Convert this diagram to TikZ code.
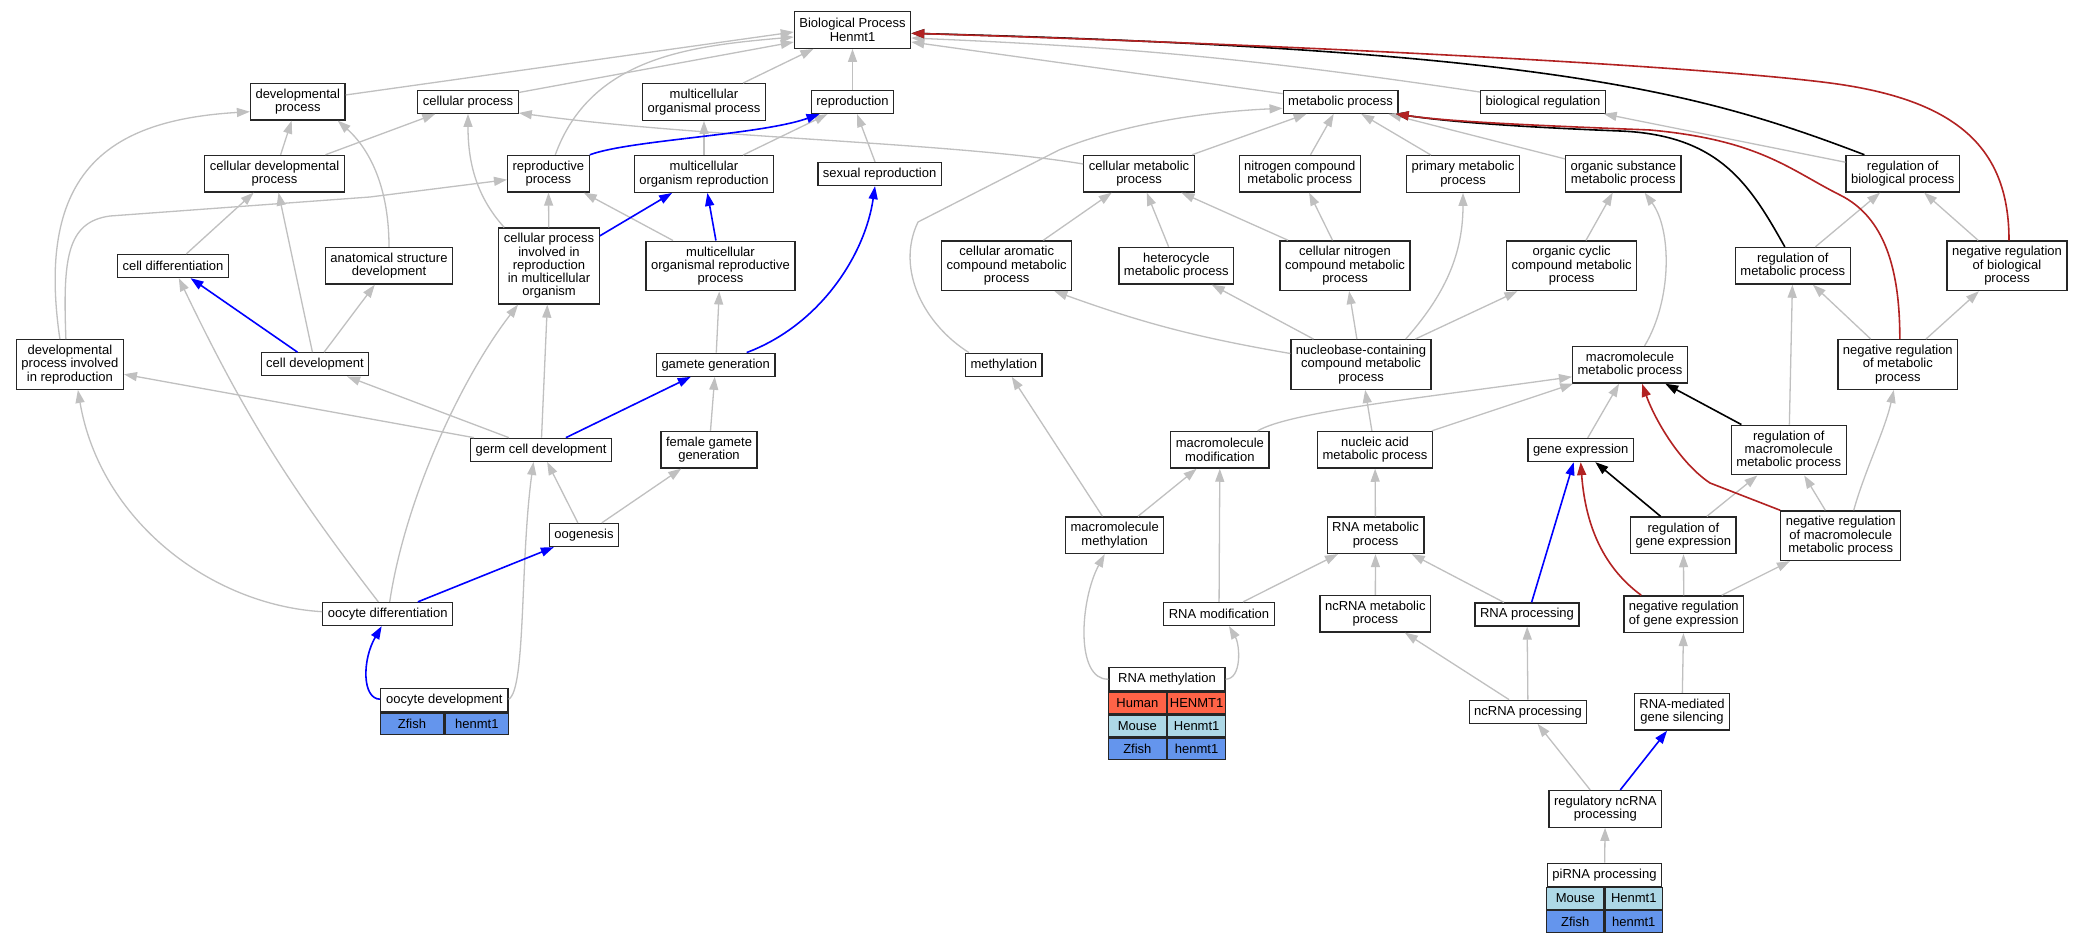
\documentclass[tikz,border=0pt]{standalone}
\usepackage{fontspec}
\setmainfont{Liberation Sans}
\usetikzlibrary{arrows.meta}
\definecolor{isagray}{RGB}{192,192,192}
\definecolor{hitblue}{RGB}{0,0,255}
\definecolor{negred}{RGB}{178,34,34}
\definecolor{human}{RGB}{255,99,71}
\definecolor{mouse}{RGB}{173,216,230}
\definecolor{zfish}{RGB}{100,149,237}
\begin{document}
\begin{tikzpicture}[x=1pt,y=1pt,
  goterm/.style={draw=black!85,line width=1.3pt,fill=white,align=center,inner xsep=5pt,inner ysep=1pt,minimum height=23pt,font=\fontsize{13}{13.3}\selectfont},
  lines2/.style={minimum height=36.6pt},
  lines3/.style={minimum height=49.6pt},
  lines5/.style={minimum height=76pt},
  genecell/.style={draw=black!85,line width=1.3pt,inner sep=0pt,minimum height=21.7pt,font=\fontsize{13}{13.3}\selectfont},
  isa/.style={draw=isagray,line width=1.3pt,-{Triangle[length=13pt,width=9pt]}},
  ortho/.style={draw=hitblue,line width=1.6pt,-{Triangle[length=13pt,width=9pt]}},
  regby/.style={draw=black,line width=1.6pt,-{Triangle[length=13pt,width=9pt]}},
  negby/.style={draw=negred,line width=1.6pt,-{Triangle[length=13pt,width=9pt]}}]

\path[use as bounding box,fill=white] (0,0) rectangle (2083,-939);

%terms, row by row
\node[goterm,lines2] (bp) at (852.5,-30) {Biological Process\\Henmt1};

\node[goterm,lines2] (devproc) at (297.8,-101.7) {developmental\\process};
\node[goterm] (cellproc) at (468,-101.8) {cellular process};
\node[goterm,lines2] (multorgproc) at (704,-102) {multicellular\\organismal process};
\node[goterm] (reproduction) at (852.5,-102) {reproduction};
\node[goterm] (metproc) at (1340.6,-101.7) {metabolic process};
\node[goterm] (bioreg) at (1543,-101.7) {biological regulation};

\node[goterm,lines2] (celldevproc) at (274.5,-173.7) {cellular developmental\\process};
\node[goterm,lines2] (reprodproc) at (548.4,-173.7) {reproductive\\process};
\node[goterm,lines2] (multorgrepro) at (704,-174) {multicellular\\organism reproduction};
\node[goterm] (sexrepro) at (879.6,-174) {sexual reproduction};
\node[goterm,lines2] (cellmetproc) at (1139,-173.7) {cellular metabolic\\process};
\node[goterm,lines2] (nitrocomp) at (1299.8,-173.7) {nitrogen compound\\metabolic process};
\node[goterm,lines2] (primmet) at (1463,-174) {primary metabolic\\process};
\node[goterm,lines2] (orgsubst) at (1623.3,-173.7) {organic substance\\metabolic process};
\node[goterm,lines2] (regbio) at (1902.7,-173.7) {regulation of\\biological process};

\node[goterm] (celldiff) at (173,-266) {cell differentiation};
\node[goterm,lines2] (anatdev) at (389,-265.8) {anatomical structure\\development};
\node[goterm,lines5] (cpinrepro) at (549,-266) {cellular process\\involved in\\reproduction\\in multicellular\\organism};
\node[goterm,lines3] (multorgreproproc) at (720.5,-266) {multicellular\\organismal reproductive\\process};
\node[goterm,lines3] (cellarom) at (1006.7,-265.7) {cellular aromatic\\compound metabolic\\process};
\node[goterm,lines2] (heterocyc) at (1176.3,-265.7) {heterocycle\\metabolic process};
\node[goterm,lines3] (cellnitro) at (1345,-265.7) {cellular nitrogen\\compound metabolic\\process};
\node[goterm,lines3] (orgcyc) at (1571.7,-265.8) {organic cyclic\\compound metabolic\\process};
\node[goterm,lines2] (regmet) at (1792.8,-265.8) {regulation of\\metabolic process};
\node[goterm,lines3] (negregbio) at (2007,-265.8) {negative regulation\\of biological\\process};

\node[goterm,lines3] (devinrepro) at (69.9,-364.5) {developmental\\process involved\\in reproduction};
\node[goterm] (celldev) at (315,-364.3) {cell development};
\node[goterm] (gamgen) at (715.7,-364.7) {gamete generation};
\node[goterm] (methyl) at (1003.8,-364.7) {methylation};
\node[goterm,lines3] (nucleob) at (1361,-364.5) {nucleobase-containing\\compound metabolic\\process};
\node[goterm,lines2] (macromet) at (1630,-364.8) {macromolecule\\metabolic process};
\node[goterm,lines3] (negregmet) at (1897.8,-364.5) {negative regulation\\of metabolic\\process};

\node[goterm] (germdev) at (541,-449.8) {germ cell development};
\node[goterm,lines2] (femgam) at (709,-449.7) {female gamete\\generation};
\node[goterm,lines2] (macromod) at (1219.9,-449.8) {macromolecule\\modification};
\node[goterm,lines2] (nucacid) at (1375,-449.8) {nucleic acid\\metabolic process};
\node[goterm] (genexp) at (1580.7,-450) {gene expression};
\node[goterm,lines3] (regmacro) at (1788.8,-450) {regulation of\\macromolecule\\metabolic process};

\node[goterm] (oogen) at (584,-535) {oogenesis};
\node[goterm,lines2] (macromethyl) at (1114.7,-535.2) {macromolecule\\methylation};
\node[goterm,lines2] (rnamet) at (1375.5,-535.2) {RNA metabolic\\process};
\node[goterm,lines2] (reggene) at (1683.4,-535.3) {regulation of\\gene expression};
\node[goterm,lines3] (negregmacro) at (1840.7,-535.7) {negative regulation\\of macromolecule\\metabolic process};

\node[goterm] (oocdiff) at (387.7,-614) {oocyte differentiation};
\node[goterm] (rnamod) at (1219,-614) {RNA modification};
\node[goterm,lines2] (ncrnamet) at (1375.3,-613.7) {ncRNA metabolic\\process};
\node[goterm] (rnaproc) at (1527,-614.5) {RNA processing};
\node[goterm,lines2] (negreggene) at (1683.8,-614.2) {negative regulation\\of gene expression};

\node[goterm] (ncrnaproc) at (1528,-711.8) {ncRNA processing};
\node[goterm,lines2] (rnasilenc) at (1682,-711.8) {RNA-mediated\\gene silencing};
\node[goterm,lines2] (regncrna) at (1605.3,-808.9) {regulatory ncRNA\\processing};

%terms with genes
\node[goterm,minimum width=127.2pt] (oocdev) at (444.4,-700.2) {oocyte development};
\node[genecell,fill=zfish,minimum width=63.6pt,anchor=north east] (oocdevz) at (oocdev.south) {Zfish};
\node[genecell,fill=zfish,minimum width=63.6pt,anchor=north west] (oocdevzg) at (oocdev.south) {henmt1};

\node[goterm,minimum width=116pt] (rnamethyl) at (1167,-679.2) {RNA methylation};
\node[genecell,fill=human,minimum width=58pt,anchor=north east] (rnamethylh) at (rnamethyl.south) {Human};
\node[genecell,fill=human,minimum width=58pt,anchor=north west] (rnamethylhg) at (rnamethyl.south) {HENMT1};
\node[genecell,fill=mouse,minimum width=58pt,anchor=north east] (rnamethylm) at (rnamethylh.south east) {Mouse};
\node[genecell,fill=mouse,minimum width=58pt,anchor=north west] (rnamethylmg) at (rnamethylh.south east) {Henmt1};
\node[genecell,fill=zfish,minimum width=58pt,anchor=north east] (rnamethylz) at (rnamethylm.south east) {Zfish};
\node[genecell,fill=zfish,minimum width=58pt,anchor=north west] (rnamethylzg) at (rnamethylm.south east) {henmt1};

\node[goterm,minimum width=114.3pt] (pirna) at (1604.5,-874.7) {piRNA processing};
\node[genecell,fill=mouse,minimum width=57.2pt,anchor=north east] (pirnam) at (pirna.south) {Mouse};
\node[genecell,fill=mouse,minimum width=57.2pt,anchor=north west] (pirnamg) at (pirna.south) {Henmt1};
\node[genecell,fill=zfish,minimum width=57.2pt,anchor=north east] (pirnaz) at (pirnam.south east) {Zfish};
\node[genecell,fill=zfish,minimum width=57.2pt,anchor=north west] (pirnazg) at (pirnam.south east) {henmt1};

%draw is-a links
\foreach \a/\b in {multorgproc/bp, reproduction/bp,
    celldevproc/devproc, celldevproc/cellproc, multorgrepro/multorgproc, multorgrepro/reproduction,
    sexrepro/reproduction, cpinrepro/reprodproc, multorgreproproc/reprodproc,
    celldiff/celldevproc, celldev/celldevproc, celldev/anatdev,
    germdev/devinrepro, germdev/celldev, germdev/cpinrepro, gamgen/multorgreproproc,
    femgam/gamgen, oogen/germdev, oogen/femgam,
    cellmetproc/metproc, nitrocomp/metproc, primmet/metproc, orgsubst/metproc,
    cellarom/cellmetproc, heterocyc/cellmetproc, cellnitro/cellmetproc, cellnitro/nitrocomp,
    orgcyc/orgsubst, nucleob/heterocyc, nucleob/cellnitro, nucleob/orgcyc,
    nucacid/macromet, nucacid/nucleob, genexp/macromet,
    macromethyl/methyl, macromethyl/macromod, rnamod/macromod, rnamet/nucacid,
    rnamod/rnamet, ncrnamet/rnamet, rnaproc/rnamet, ncrnaproc/ncrnamet, ncrnaproc/rnaproc,
    regncrna/ncrnaproc, pirna/regncrna,
    regmet/regbio, negregbio/regbio, regbio/bioreg, negregmet/regmet, negregmet/negregbio,
    regmacro/regmet, reggene/regmacro, negregmacro/regmacro, negreggene/reggene,
    negreggene/negregmacro, rnasilenc/negreggene}
  \draw[isa] (\a) -- (\b);

%curved is-a links
\draw[isa] (devproc) -- ([yshift=-2pt]bp.west);
\draw[isa] (cellproc) -- ([yshift=-12pt]bp.west);
\draw[isa] (reprodproc) to[out=70,in=185] ([yshift=-7pt]bp.west);
\draw[isa] (metproc) -- ([yshift=-12pt]bp.east);
\draw[isa] (bioreg) to[bend right=3] ([yshift=-8pt]bp.east);
\draw[isa] ([xshift=-10pt]devinrepro.north) .. controls (35,-170) and (110,-120) .. ([yshift=-10pt]devproc.west);
\draw[isa] ([xshift=-4pt]devinrepro.north) .. controls (63,-260) and (66,-222) .. (110,-216) -- (370,-197) -- ([yshift=-6pt]reprodproc.west);
\draw[isa] (anatdev.north) .. controls (389,-180) and (365,-145) .. ([xshift=-8pt]devproc.south east);
\draw[isa] ([xshift=6pt]cpinrepro.north west) .. controls (475,-195) and (468,-160) .. (cellproc.south);
\draw[isa] ([yshift=9.7pt]cellmetproc.west) .. controls (950,-142) and (700,-138) .. ([yshift=1pt]cellproc.south east);
\draw[isa] (oocdiff) to[bend left=6] (celldiff);
\draw[isa] ([yshift=2.3pt]oocdiff.west) .. controls (210,-605) and (100,-520) .. ([xshift=8pt]devinrepro.south);
\draw[isa] ([xshift=2pt]oocdiff.north) .. controls (405,-500) and (460,-380) .. ([xshift=-31pt]cpinrepro.south);
\draw[isa] ([yshift=1pt]oocdev.east) .. controls (526,-690) and (520,-560) .. ([xshift=-7.5pt]germdev.south);
\draw[isa] ([xshift=4pt]methyl.north west) .. controls (925,-325) and (895,-270) .. (918,-222) -- (1059,-150) .. controls (1120,-125) and (1200,-112) .. ([yshift=-6.6pt]metproc.west);
\draw[isa] ([yshift=11pt]nucleob.west) to[bend left=5] ([xshift=-18pt]cellarom.south east);
\draw[isa] ([xshift=-26pt]nucleob.north east) .. controls (1440,-300) and (1463,-260) .. (primmet.south);
\draw[isa] ([xshift=14.6pt]macromet.north) .. controls (1672,-300) and (1672,-230) .. ([xshift=21.3pt]orgsubst.south);
\draw[isa] ([xshift=-12pt]macromod.north east) .. controls (1290,-412) and (1420,-398) .. ([yshift=-12pt]macromet.west);
\draw[isa] (rnamethyl.west) .. controls (1075,-680) and (1080,-600) .. ([xshift=-10pt]macromethyl.south);
\draw[isa] (rnamethyl.east) .. controls (1242,-679) and (1240,-645) .. ([xshift=10pt]rnamod.south);
\draw[isa] ([xshift=13pt]negregmacro.north) .. controls (1865,-470) and (1885,-430) .. ([xshift=-4pt]negregmet.south);

%draw gene links
\foreach \a/\b in {celldev/celldiff, cpinrepro/multorgrepro, multorgreproproc/multorgrepro,
    germdev/gamgen, oocdiff/oogen, regncrna/rnasilenc}
  \draw[ortho] (\a) -- (\b);
\draw[ortho] (reprodproc.north east) .. controls (630,-140) and (760,-135) .. ([xshift=-33pt]reproduction.south);
\draw[ortho] ([xshift=31pt]gamgen.north) .. controls (820,-325) and (865,-255) .. ([xshift=-4.6pt]sexrepro.south);
\draw[ortho] ([yshift=1pt]oocdev.west) .. controls (362,-699) and (362,-660) .. ([xshift=-6pt]oocdiff.south);
\draw[ortho] ([xshift=4.6pt]rnaproc.north) -- ([xshift=-7pt]genexp.south);

%draw regulation links
\draw[regby] (regmacro) -- (macromet);
\draw[regby] (reggene) -- (genexp);
\draw[regby] ([xshift=19pt]regbio.north west) .. controls (1700,-92) and (1550,-50) .. ([yshift=-3.3pt]bp.east);
\draw[regby] ([xshift=-8pt]regmet.north) .. controls (1750,-185) and (1720,-135) .. (1620,-131) .. controls (1520,-127) and (1450,-122) .. ([xshift=-3pt]metproc.south east);

%draw negative regulation links
\draw[negby] ([xshift=2pt]negregbio.north) .. controls (2009,-150) and (1960,-100) .. (1830,-83) .. controls (1700,-66) and (1300,-45) .. ([yshift=-3.3pt]bp.east);
\draw[negby] ([xshift=2pt]negregmet.north) .. controls (1900,-260) and (1880,-215) .. (1840,-195) .. controls (1790,-170) and (1760,-140) .. (1650,-130) .. controls (1550,-126) and (1450,-122) .. ([xshift=-3pt]metproc.south east);
\draw[negby] (negregmacro.north west) -- (1710,-483) .. controls (1680,-463) and (1655,-420) .. ([xshift=12pt]macromet.south);
\draw[negby] ([xshift=18pt]negreggene.north west) .. controls (1600,-565) and (1585,-520) .. (genexp.south);

\end{tikzpicture}
\end{document}
